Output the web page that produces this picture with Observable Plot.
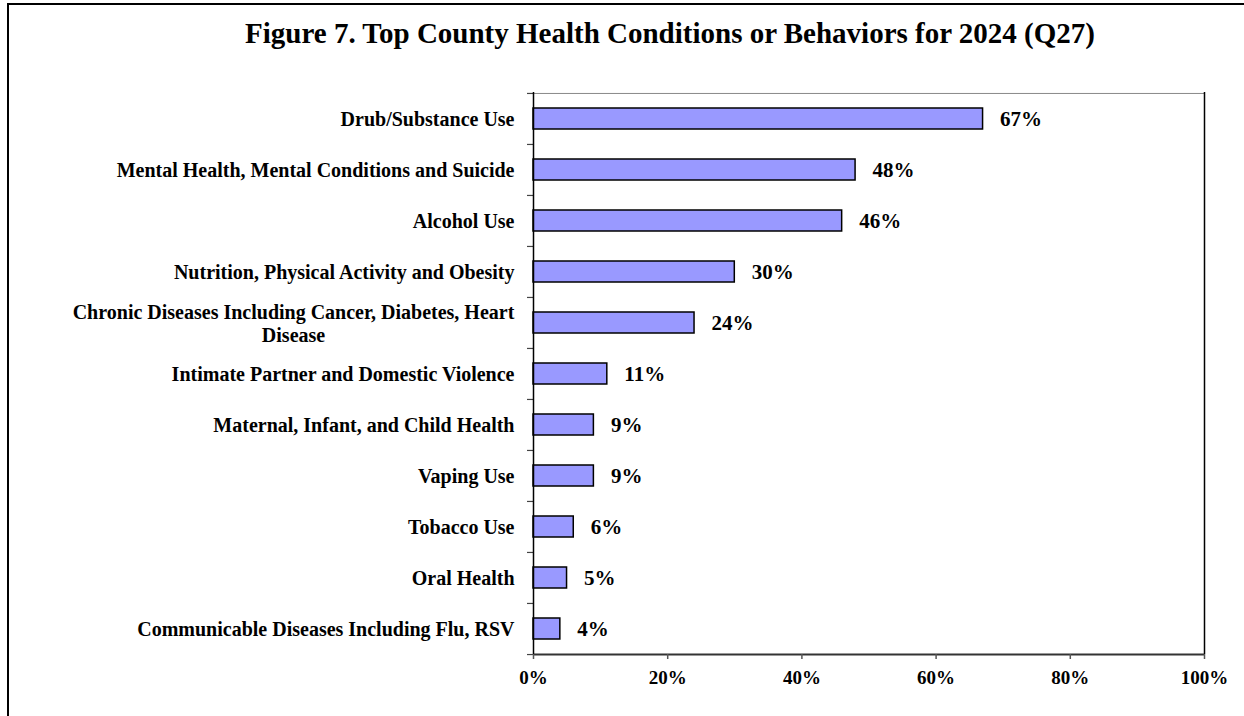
<!DOCTYPE html>
<html>
<head>
<meta charset="utf-8">
<script src="https://cdn.jsdelivr.net/npm/d3@7"></script>
<script src="https://cdn.jsdelivr.net/npm/@observablehq/plot@0.6"></script>
<style>
  html, body { margin: 0; padding: 0; background: #fff; overflow: hidden; }
  #page { position: relative; width: 1244px; height: 716px; overflow: hidden; }
  #frame { position: absolute; left: 7px; top: 3px; width: 2000px; height: 2000px;
           border-left: 2px solid #000; border-top: 2px solid #000; box-sizing: border-box; }
  #title { position: absolute; left: 0; top: 0; width: 1244px; height: 60px; box-sizing: border-box;
           padding-top: 16px; padding-left: 96px; line-height: 34px; text-align: center; white-space: nowrap;
           font-family: "Liberation Serif", "Times New Roman", serif; font-weight: bold; font-size: 29px; color: #000; }
  #chart { position: absolute; left: 0; top: 60px; }
</style>
</head>
<body>
<div id="page">
  <div id="frame"></div>
  <div id="title">Figure 7. Top County Health Conditions or Behaviors for 2024 (Q27)</div>
  <div id="chart"></div>
</div>
<script>
const categories = [
  "Drub/Substance Use",
  "Mental Health, Mental Conditions and Suicide",
  "Alcohol Use",
  "Nutrition, Physical Activity and Obesity",
  "Chronic Diseases Including Cancer, Diabetes, Heart\nDisease",
  "Intimate Partner and Domestic Violence",
  "Maternal, Infant, and Child Health",
  "Vaping Use",
  "Tobacco Use",
  "Oral Health",
  "Communicable Diseases Including Flu, RSV"
];
const values = [67, 48, 46, 30, 24, 11, 9, 9, 6, 5, 4];
const xTicks = [0, 20, 40, 60, 80, 100];

const data = categories.map((c, i) => ({category: c, value: values[i]}));

const H = 656, MT = 32, MB = 62;
const step = (H - MT - MB) / categories.length;
const last = categories[categories.length - 1];

const plot = Plot.plot({
  width: 1244,
  height: H,
  marginLeft: 533,
  marginRight: 40,
  marginTop: MT,
  marginBottom: MB,
  style: {
    fontFamily: "'Liberation Serif', 'Times New Roman', serif",
    fontSize: "20px",
    fontWeight: "bold",
    color: "#000",
    background: "transparent"
  },
  x: {domain: [0, 100]},
  y: {domain: categories, paddingInner: 0.59, paddingOuter: 0.295},
  marks: [
    Plot.ruleY([categories[0]], {dy: -step / 2, stroke: "#888", strokeWidth: 1}),
    Plot.ruleX([100], {stroke: "#000", strokeWidth: 1.5}),
    Plot.ruleY(categories, {y: d => d, x1: 0, x2: 0, insetLeft: -6, dy: -step / 2, stroke: "#444", strokeWidth: 1.2}),
    Plot.ruleY([last], {x1: 0, x2: 0, insetLeft: -6, dy: step / 2, stroke: "#444", strokeWidth: 1.2}),
    Plot.barX(data, {x: "value", y: "category", fill: "#9999FF", stroke: "#000", strokeWidth: 1.5}),
    Plot.text(data, {x: "value", y: "category", text: d => d.value + "%", textAnchor: "start", dx: 17, fontSize: 21, fontWeight: "bold", fill: "#000"}),
    Plot.ruleY([last], {dy: step / 2, stroke: "#333", strokeWidth: 2}),
    Plot.ruleX([0], {stroke: "#000", strokeWidth: 1.5}),
    Plot.axisX({ticks: xTicks, tickFormat: d => d + "%", tickSize: 5, tickPadding: 11, label: null, stroke: "#555", strokeWidth: 1.5, fontSize: 19}),
    Plot.axisY({tickSize: 0, tickPadding: 19, label: null, lineHeight: 1.15, fontSize: 20})
  ]
});

document.getElementById("chart").appendChild(plot);

// center the multi-line tick label as in the original
plot.querySelectorAll('g[aria-label="y-axis tick label"] text').forEach(t => {
  const ts = t.querySelectorAll("tspan");
  if (ts.length > 1) {
    const w = t.getBBox().width;
    t.setAttribute("text-anchor", "middle");
    ts.forEach(s => s.setAttribute("x", -w / 2));
  }
});
</script>
</body>
</html>
